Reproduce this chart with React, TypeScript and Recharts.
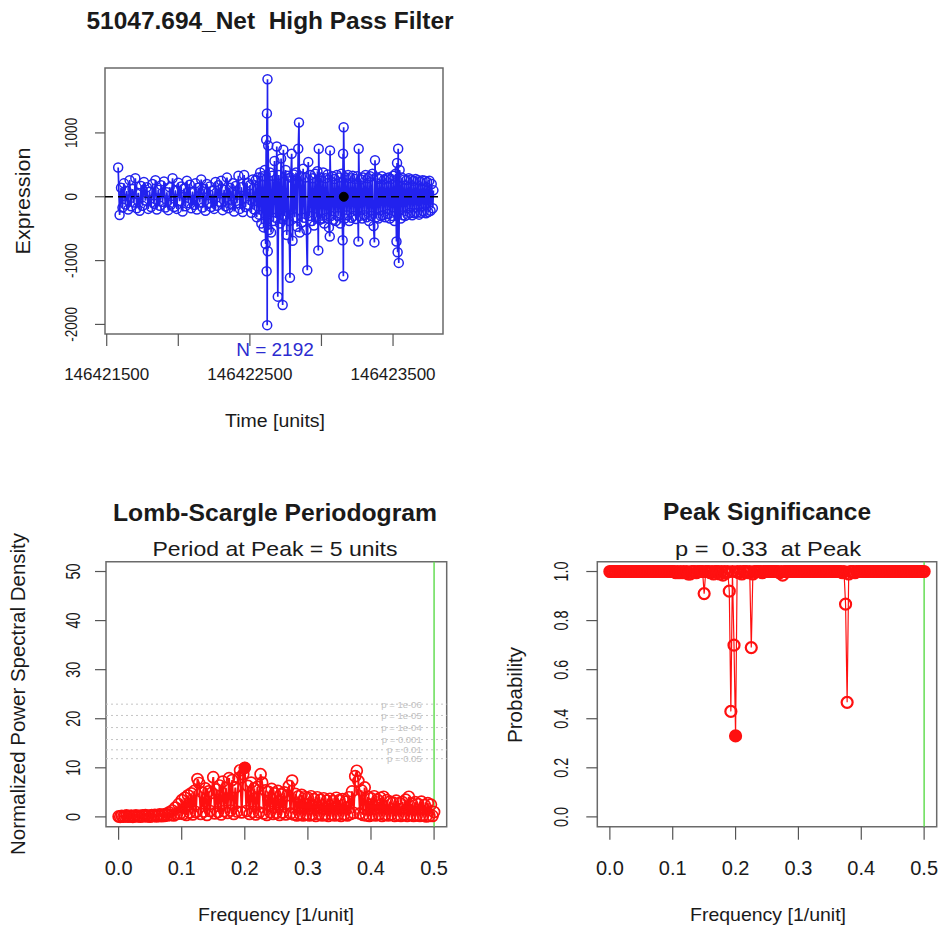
import React from "react";
import {
  LineChart,
  Line,
  XAxis,
  YAxis,
  ReferenceLine,
  ReferenceDot,
  ReferenceArea,
} from "recharts";

const FONT = "'Liberation Sans', Arial, Helvetica, sans-serif";
const BLUE = "#2222ee";
const RED = "#ff1010";
const GREEN = "#66dd55";
const BOX = "#6a6a6a";
const INK = "#1a1a1a";

// ---- top panel: high pass filtered expression, [time, value] ----
const expressionSeries: [number, number][] = [
  [146421580, 457], [146421590, -285], [146421600, 140], [146421610, -170], [146421620, 210],
  [146421630, -120], [146421640, 90], [146421650, -200], [146421660, 260], [146421670, -150],
  [146421680, 120], [146421690, -90], [146421700, 290], [146421710, -180], [146421720, 60],
  [146421730, -220], [146421740, 170], [146421750, -140], [146421760, 230], [146421770, -60],
  [146421780, 150], [146421790, -190], [146421800, 80], [146421810, -160], [146421820, 200],
  [146421830, -110], [146421840, 260], [146421850, -200], [146421860, 110], [146421870, -140],
  [146421880, 180], [146421890, -80], [146421900, 240], [146421910, -170], [146421920, 70],
  [146421930, -210], [146421940, 150], [146421950, -120], [146421960, 290], [146421970, -160],
  [146421980, 100], [146421990, -190], [146422000, 220], [146422010, -70], [146422020, 160],
  [146422030, -230], [146422040, 130], [146422050, -150], [146422060, 250], [146422070, -100],
  [146422080, 190], [146422090, -180], [146422100, 80], [146422110, -130], [146422120, 210],
  [146422130, -200], [146422140, 140], [146422150, -90], [146422160, 270], [146422170, -170],
  [146422180, 120], [146422190, -220], [146422200, 200], [146422210, -110], [146422220, 160],
  [146422230, -160], [146422240, 90], [146422250, -190], [146422260, 230], [146422270, -140],
  [146422280, 180], [146422290, -80], [146422300, 250], [146422310, -210], [146422320, 110],
  [146422330, -150], [146422340, 300], [146422350, -180], [146422360, 140], [146422370, -120],
  [146422380, 210], [146422390, -230], [146422400, 170], [146422410, -100], [146422420, 330],
  [146422430, -190], [146422440, 150], [146422450, -240], [146422460, 340], [146422470, -160],
  [146422480, 220], [146422490, -130], [146422500, 180], [146422510, -250], [146422520, 270],
  [146422530, -200],
  [146422540, 260], [146422548, -320], [146422556, 300], [146422564, -280], [146422572, 380],
  [146422580, -420], [146422588, 320], [146422596, -480], [146422604, 420], [146422610, -740],
  [146422614, 892], [146422617, -1166], [146422619, 1306], [146422621, -2011], [146422623, 1841],
  [146422625, -855], [146422628, 804], [146422632, -520], [146422640, 380], [146422648, -560],
  [146422656, 330], [146422664, -380], [146422672, 560], [146422680, -330], [146422688, 788],
  [146422695, -1565], [146422702, 340], [146422710, -420], [146422718, 600], [146422724, -350],
  [146422729, -1695], [146422734, 737], [146422742, -300], [146422750, 420], [146422758, -600],
  [146422766, 330], [146422774, -380], [146422780, -1269], [146422786, 300], [146422792, 675],
  [146422798, -690], [146422806, 350], [146422814, -320], [146422822, 380], [146422830, -470],
  [146422838, 752], [146422843, 1162], [146422848, -560], [146422856, 320], [146422864, -400],
  [146422872, 440], [146422880, -330], [146422888, 300], [146422895, -520], [146422901, -1151],
  [146422908, 545], [146422916, -300], [146422924, 340], [146422932, -380], [146422940, 290],
  [146422948, -450], [146422956, 360], [146422964, -320], [146422972, 400], [146422978, -840],
  [146422981, 752], [146422988, -360], [146422996, 300], [146423004, -340], [146423012, 380],
  [146423020, -420], [146423028, 290], [146423036, -330], [146423044, 350], [146423052, -480],
  [146423058, -622], [146423060, 726], [146423068, -300], [146423076, 320], [146423084, -360],
  [146423092, 280], [146423100, -380], [146423108, 340], [146423116, -300], [146423124, 300],
  [146423132, -420], [146423140, 360], [146423148, -680], [146423151, 675], [146423153, -1244],
  [146423155, 1089], [146423162, -340], [146423170, 300], [146423178, -290], [146423186, 340],
  [146423194, -380], [146423202, 290], [146423210, -330], [146423218, 330], [146423226, -300],
  [146423234, 280], [146423242, -350], [146423250, 320], [146423258, -700], [146423260, 752],
  [146423268, -300], [146423276, 270], [146423284, -340], [146423292, 300], [146423300, -290],
  [146423308, 340], [146423316, -320], [146423324, 290], [146423332, -380], [146423340, 320],
  [146423348, -300], [146423356, 360], [146423364, -460], [146423370, -715], [146423374, 571],
  [146423382, -320], [146423390, 300], [146423398, -340], [146423406, 280], [146423414, -300],
  [146423422, 320], [146423430, -290], [146423438, 270], [146423446, -320], [146423454, 290],
  [146423462, -270], [146423470, 300], [146423478, -340], [146423486, 280], [146423494, -300],
  [146423502, 330], [146423510, -380], [146423518, 360], [146423524, -700], [146423528, 529],
  [146423532, -870], [146423536, 752], [146423540, -1036], [146423546, 420], [146423554, -340],
  [146423562, 300], [146423570, -290], [146423578, 270], [146423586, -300], [146423594, 260],
  [146423602, -280], [146423610, 290], [146423618, -250], [146423626, 270], [146423634, -290],
  [146423642, 250], [146423650, -260], [146423658, 280], [146423666, -250], [146423674, 260],
  [146423682, -280], [146423690, 240], [146423698, -250], [146423706, 260], [146423714, -230],
  [146423722, 250], [146423730, -260], [146423738, 230], [146423746, -240], [146423754, 250],
  [146423762, -220], [146423770, 200], [146423778, -180], [146423782, 100],
];
const timeTicks = [146421500, 146422000, 146422500, 146423000, 146423500];
const timeTickLabels = ["146421500", "", "146422500", "", "146423500"];
const timeDomain = [146421488, 146423849];
const expressionTicks = [-2000, -1000, 0, 1000];
const expressionDomain = [-2150, 2017];
const markerTime = 146423156;
const sampleCount = 2192;

// ---- periodogram ----
const frequencies = [
  0, 0.0025, 0.005, 0.0075, 0.01, 0.0125, 0.015, 0.0175, 0.02, 0.0225,
  0.025, 0.0275, 0.03, 0.0325, 0.035, 0.0375, 0.04, 0.0425, 0.045, 0.0475,
  0.05, 0.0525, 0.055, 0.0575, 0.06, 0.0625, 0.065, 0.0675, 0.07, 0.0725,
  0.075, 0.0775, 0.08, 0.0825, 0.085, 0.0875, 0.09, 0.0925, 0.095, 0.0975,
  0.1, 0.1025, 0.105, 0.1075, 0.11, 0.1125, 0.115, 0.1175, 0.12, 0.1225,
  0.125, 0.1275, 0.13, 0.1325, 0.135, 0.1375, 0.14, 0.1425, 0.145, 0.1475,
  0.15, 0.1525, 0.155, 0.1575, 0.16, 0.1625, 0.165, 0.1675, 0.17, 0.1725,
  0.175, 0.1775, 0.18, 0.1825, 0.185, 0.1875, 0.19, 0.1925, 0.195, 0.1975,
  0.2, 0.2025, 0.205, 0.2075, 0.21, 0.2125, 0.215, 0.2175, 0.22, 0.2225,
  0.225, 0.2275, 0.23, 0.2325, 0.235, 0.2375, 0.24, 0.2425, 0.245, 0.2475,
  0.25, 0.2525, 0.255, 0.2575, 0.26, 0.2625, 0.265, 0.2675, 0.27, 0.2725,
  0.275, 0.2775, 0.28, 0.2825, 0.285, 0.2875, 0.29, 0.2925, 0.295, 0.2975,
  0.3, 0.3025, 0.305, 0.3075, 0.31, 0.3125, 0.315, 0.3175, 0.32, 0.3225,
  0.325, 0.3275, 0.33, 0.3325, 0.335, 0.3375, 0.34, 0.3425, 0.345, 0.3475,
  0.35, 0.3525, 0.355, 0.3575, 0.36, 0.3625, 0.365, 0.3675, 0.37, 0.3725,
  0.375, 0.3775, 0.38, 0.3825, 0.385, 0.3875, 0.39, 0.3925, 0.395, 0.3975,
  0.4, 0.4025, 0.405, 0.4075, 0.41, 0.4125, 0.415, 0.4175, 0.42, 0.4225,
  0.425, 0.4275, 0.43, 0.4325, 0.435, 0.4375, 0.44, 0.4425, 0.445, 0.4475,
  0.45, 0.4525, 0.455, 0.4575, 0.46, 0.4625, 0.465, 0.4675, 0.47, 0.4725,
  0.475, 0.4775, 0.48, 0.4825, 0.485, 0.4875, 0.49, 0.4925, 0.495, 0.4975,
  0.5,
];
const powerValues = [
  0.1, 0.02, 0.2, 0.05, 0.15, 0.3, 0.05, 0.1, 0.25, 0.02,
  0.15, 0.3, 0.1, 0.2, 0.05, 0.3, 0.15, 0.35, 0.1, 0.25,
  0.05, 0.35, 0.2, 0.4, 0.1, 0.3, 0.5, 0.15, 0.45, 0.2,
  0.6, 0.3, 0.9, 0.4, 1.3, 0.3, 1.9, 0.6, 2.6, 0.7,
  3.4, 0.6, 3.9, 0.4, 4.4, 0.9, 4.8, 0.5, 5.3, 1.0,
  7.7, 6.9, 0.6, 5.0, 1.1, 5.8, 0.4, 5.2, 1.2, 4.9,
  8.1, 0.7, 5.6, 1.0, 6.4, 0.5, 7.2, 1.2, 5.9, 0.8,
  7.9, 1.3, 7.5, 0.6, 6.0, 1.1, 7.9, 9.5, 0.9, 8.7,
  10.0, 1.2, 6.3, 0.6, 7.0, 1.0, 5.8, 0.5, 6.1, 0.9,
  8.7, 7.0, 0.7, 5.4, 0.4, 5.1, 1.0, 5.7, 0.6, 4.8,
  0.8, 5.3, 0.4, 4.6, 0.9, 5.0, 0.5, 4.4, 6.3, 0.7,
  7.4, 0.5, 4.7, 0.3, 4.2, 0.6, 4.5, 0.3, 4.0, 0.5,
  3.9, 0.3, 4.2, 0.5, 3.6, 0.2, 4.0, 0.6, 3.5, 0.3,
  3.8, 0.4, 3.3, 0.2, 3.7, 0.5, 3.2, 0.3, 3.9, 0.4,
  3.4, 0.2, 3.6, 0.5, 3.1, 0.3, 4.0, 0.6, 5.2, 0.8,
  8.3, 9.4, 7.3, 0.7, 5.4, 0.4, 6.0, 0.3, 4.1, 0.2,
  3.8, 0.4, 4.2, 0.3, 3.5, 0.5, 3.9, 0.2, 4.1, 0.4,
  3.4, 0.3, 3.1, 0.5, 2.9, 0.2, 3.3, 0.3, 2.8, 0.2,
  3.0, 0.4, 3.5, 0.2, 4.1, 0.4, 2.7, 0.2, 3.0, 0.3,
  2.6, 0.2, 3.1, 0.3, 2.4, 0.1, 2.8, 0.2, 2.5, 0.2,
  1.0,
];
const probabilityValues = [
  1, 1, 1, 1, 1, 1, 1, 1, 1, 1,
  1, 1, 1, 1, 1, 1, 1, 1, 1, 1,
  1, 1, 1, 1, 1, 1, 1, 1, 1, 1,
  1, 1, 1, 1, 1, 1, 1, 1, 1, 1,
  1, 1, 0.995, 1, 0.995, 1, 0.995, 1, 0.995, 1,
  0.99, 0.99, 1, 1, 1, 0.995, 1, 1, 1, 1,
  0.91, 1, 1, 1, 0.995, 1, 0.99, 1, 1, 1,
  0.99, 1, 0.985, 1, 0.995, 1, 0.92, 0.43, 1, 0.7,
  0.33, 1, 0.995, 1, 0.99, 1, 1, 1, 0.995, 1,
  0.69, 0.99, 1, 1, 1, 1, 1, 0.995, 1, 1,
  1, 1, 1, 1, 1, 1, 1, 1, 0.995, 1,
  0.985, 1, 1, 1, 1, 1, 1, 1, 1, 1,
  1, 1, 1, 1, 1, 1, 1, 1, 1, 1,
  1, 1, 1, 1, 1, 1, 1, 1, 1, 1,
  1, 1, 1, 1, 1, 1, 1, 1, 0.995, 1,
  0.867, 0.467, 0.99, 1, 1, 1, 0.995, 1, 1, 1,
  1, 1, 1, 1, 1, 1, 1, 1, 1, 1,
  1, 1, 1, 1, 1, 1, 1, 1, 1, 1,
  1, 1, 1, 1, 1, 1, 1, 1, 1, 1,
  1, 1, 1, 1, 1, 1, 1, 1, 1, 1,
  1,
];
const freqTicks = [0, 0.1, 0.2, 0.3, 0.4, 0.5];
const freqDomain = [-0.02, 0.52];
const powerTicks = [0, 10, 20, 30, 40, 50];
const powerDomain = [-2, 52];
const probTicks = [0, 0.2, 0.4, 0.6, 0.8, 1];
const probDomain = [-0.04, 1.04];
const sigLevels = [22.97, 20.67, 18.2, 15.76, 13.67, 11.86];
const sigLabels = ["p = 1e-06", "p = 1e-05", "p = 1e-04", "p = 0.001", "p = 0.01", "p = 0.05"];
const nyquist = 0.5;
const peakFrequency = 0.2;
const peakPower = 10.0;
const peakProbability = 0.33;

const seriesData = expressionSeries.map(([t, v]) => ({ t, v }));
const spectrumData = frequencies.map((f, i) => ({
  f,
  power: powerValues[i],
  prob: probabilityValues[i],
}));

// open circle like R's pch = 1 (Recharts fills dots white by default)
const ring = (color: string, r: number, width: number) => (props: any) => (
  <circle key={props.index} cx={props.cx} cy={props.cy} r={r} stroke={color} strokeWidth={width} fill="none" />
);

// x tick label below the axis
const xTick = (fontSize: number, fmt: (v: number) => string) => (props: any) => {
  const { x, y, payload } = props;
  return (
    <text x={x} y={y} dy="0.71em" textAnchor="middle" fontSize={fontSize} fontFamily={FONT} fill={INK}>
      {fmt(payload.value)}
    </text>
  );
};

// R style y tick label, rotated to read upward
const yTick = (fontSize: number, squeeze: number, fmt: (v: number) => string) => (props: any) => {
  const { x, y, payload } = props;
  return (
    <text
      transform={`translate(${x},${y}) rotate(-90) scale(${squeeze},1)`}
      textAnchor="middle"
      fontSize={fontSize}
      fontFamily={FONT}
      fill={INK}
    >
      {fmt(payload.value)}
    </text>
  );
};

const tickStroke = { stroke: "#555", strokeWidth: 1.2 };

function TopPanel() {
  return (
    <LineChart width={470} height={440} data={seriesData} margin={{ top: 68, right: 27, bottom: 66, left: 65 }}>
      <XAxis
        dataKey="t"
        type="number"
        domain={timeDomain}
        ticks={timeTicks}
        interval={0}
        allowDataOverflow
        height={40}
        axisLine={false}
        tickLine={tickStroke}
        tickSize={12}
        tickMargin={22}
        tick={xTick(17, (v) => timeTickLabels[timeTicks.indexOf(v)])}
      />
      <YAxis
        type="number"
        domain={expressionDomain}
        ticks={expressionTicks}
        interval={0}
        allowDataOverflow
        width={40}
        axisLine={false}
        tickLine={tickStroke}
        tickSize={10}
        tickMargin={18}
        tick={yTick(16, 0.85, (v) => String(v))}
      />
      <ReferenceArea
        x1={timeDomain[0]}
        x2={timeDomain[1]}
        y1={expressionDomain[0]}
        y2={expressionDomain[1]}
        fill="none"
        stroke={BOX}
        strokeWidth={1.5}
      />
      <Line
        dataKey="v"
        stroke={BLUE}
        strokeWidth={1.7}
        dot={ring(BLUE, 4.5, 1.5)}
        activeDot={false}
        isAnimationActive={false}
      />
      <ReferenceLine y={0} stroke="#000" strokeWidth={1.6} strokeDasharray="8 5" />
      <ReferenceDot x={markerTime} y={0} r={4.5} fill="#000" stroke="#000" />
    </LineChart>
  );
}

function PeriodogramPanel() {
  return (
    <LineChart width={470} height={458} data={spectrumData} margin={{ top: 91.7, right: 23.3, bottom: 61.3, left: 66 }}>
      <XAxis
        dataKey="f"
        type="number"
        domain={freqDomain}
        ticks={freqTicks}
        interval={0}
        allowDataOverflow
        height={40}
        axisLine={false}
        tickLine={tickStroke}
        tickSize={13}
        tickMargin={21}
        tick={xTick(20, (v) => v.toFixed(1))}
      />
      <YAxis
        type="number"
        domain={powerDomain}
        ticks={powerTicks}
        interval={0}
        allowDataOverflow
        width={40}
        axisLine={false}
        tickLine={tickStroke}
        tickSize={11}
        tickMargin={15}
        tick={yTick(20, 0.72, (v) => String(v))}
      />
      <ReferenceArea
        x1={freqDomain[0]}
        x2={freqDomain[1]}
        y1={powerDomain[0]}
        y2={powerDomain[1]}
        fill="none"
        stroke={BOX}
        strokeWidth={1.5}
      />
      {sigLevels.map((lvl, i) => (
        <ReferenceLine
          key={sigLabels[i]}
          y={lvl}
          stroke="#c4c4c4"
          strokeDasharray="2 3"
          label={{ value: sigLabels[i], position: "insideRight", offset: 25, fill: "#c2c2c2", fontSize: 9.5, fontFamily: FONT }}
        />
      ))}
      <ReferenceLine x={nyquist} stroke={GREEN} strokeWidth={1.5} />
      <Line
        dataKey="power"
        stroke={RED}
        strokeWidth={2}
        dot={ring(RED, 5.5, 1.7)}
        activeDot={false}
        isAnimationActive={false}
      />
      <ReferenceDot x={peakFrequency} y={peakPower} r={5.5} fill={RED} stroke={RED} />
    </LineChart>
  );
}

function SignificancePanel() {
  return (
    <LineChart width={471} height={458} data={spectrumData} margin={{ top: 91.7, right: 4.3, bottom: 61.3, left: 87.3 }}>
      <XAxis
        dataKey="f"
        type="number"
        domain={freqDomain}
        ticks={freqTicks}
        interval={0}
        allowDataOverflow
        height={40}
        axisLine={false}
        tickLine={tickStroke}
        tickSize={13}
        tickMargin={21}
        tick={xTick(20, (v) => v.toFixed(1))}
      />
      <YAxis
        type="number"
        domain={probDomain}
        ticks={probTicks}
        interval={0}
        allowDataOverflow
        width={40}
        axisLine={false}
        tickLine={tickStroke}
        tickSize={11}
        tickMargin={18}
        tick={yTick(20, 0.72, (v) => v.toFixed(1))}
      />
      <ReferenceArea
        x1={freqDomain[0]}
        x2={freqDomain[1]}
        y1={probDomain[0]}
        y2={probDomain[1]}
        fill="none"
        stroke={BOX}
        strokeWidth={1.5}
      />
      <ReferenceLine x={nyquist} stroke={GREEN} strokeWidth={1.5} />
      <Line
        dataKey="prob"
        stroke={RED}
        strokeWidth={1.2}
        dot={ring(RED, 5.5, 2.2)}
        activeDot={false}
        isAnimationActive={false}
      />
      <ReferenceDot x={peakFrequency} y={peakProbability} r={5.5} fill={RED} stroke={RED} />
    </LineChart>
  );
}

export default function App() {
  const abs = (left: number, top: number): React.CSSProperties => ({ position: "absolute", left, top });
  return (
    <div style={{ position: "absolute", left: 0, top: 0, width: 941, height: 928, background: "#fff", overflow: "hidden" }}>
      <div style={abs(0, 0)}>
        <TopPanel />
      </div>
      <div style={abs(0, 470)}>
        <PeriodogramPanel />
      </div>
      <div style={abs(470, 470)}>
        <SignificancePanel />
      </div>
      <svg width={941} height={928} style={{ ...abs(0, 0), pointerEvents: "none" }} fontFamily={FONT} fill={INK}>
        <text x={270} y={29} textAnchor="middle" fontSize={23} fontWeight="bold" textLength={367} lengthAdjust="spacingAndGlyphs" style={{ whiteSpace: "pre" }}>
          51047.694_Net  High Pass Filter
        </text>
        <text x={275} y={356} textAnchor="middle" fontSize={19} fill="#2b2bd0">
          N = {sampleCount}
        </text>
        <text x={275} y={427} textAnchor="middle" fontSize={18} textLength={100} lengthAdjust="spacingAndGlyphs">
          Time [units]
        </text>
        <text transform="translate(30,201) rotate(-90)" textAnchor="middle" fontSize={20} textLength={107} lengthAdjust="spacingAndGlyphs">
          Expression
        </text>

        <text x={275} y={521} textAnchor="middle" fontSize={23} fontWeight="bold" textLength={324} lengthAdjust="spacingAndGlyphs">
          Lomb-Scargle Periodogram
        </text>
        <text x={275} y={556} textAnchor="middle" fontSize={21} textLength={245} lengthAdjust="spacingAndGlyphs">
          Period at Peak = 5 units
        </text>
        <text transform="translate(25,694) rotate(-90)" textAnchor="middle" fontSize={20} textLength={322} lengthAdjust="spacingAndGlyphs">
          Normalized Power Spectral Density
        </text>
        <text x={276} y={921} textAnchor="middle" fontSize={19} textLength={156} lengthAdjust="spacingAndGlyphs">
          Frequency [1/unit]
        </text>

        <text x={767} y={520} textAnchor="middle" fontSize={23} fontWeight="bold" textLength={208} lengthAdjust="spacingAndGlyphs">
          Peak Significance
        </text>
        <text x={768} y={556} textAnchor="middle" fontSize={21} textLength={186} lengthAdjust="spacingAndGlyphs" style={{ whiteSpace: "pre" }}>
          {"p =  " + peakProbability.toFixed(2) + "  at Peak"}
        </text>
        <text transform="translate(522,695) rotate(-90)" textAnchor="middle" fontSize={20} textLength={96} lengthAdjust="spacingAndGlyphs">
          Probability
        </text>
        <text x={768} y={921} textAnchor="middle" fontSize={19} textLength={156} lengthAdjust="spacingAndGlyphs">
          Frequency [1/unit]
        </text>
      </svg>
    </div>
  );
}
